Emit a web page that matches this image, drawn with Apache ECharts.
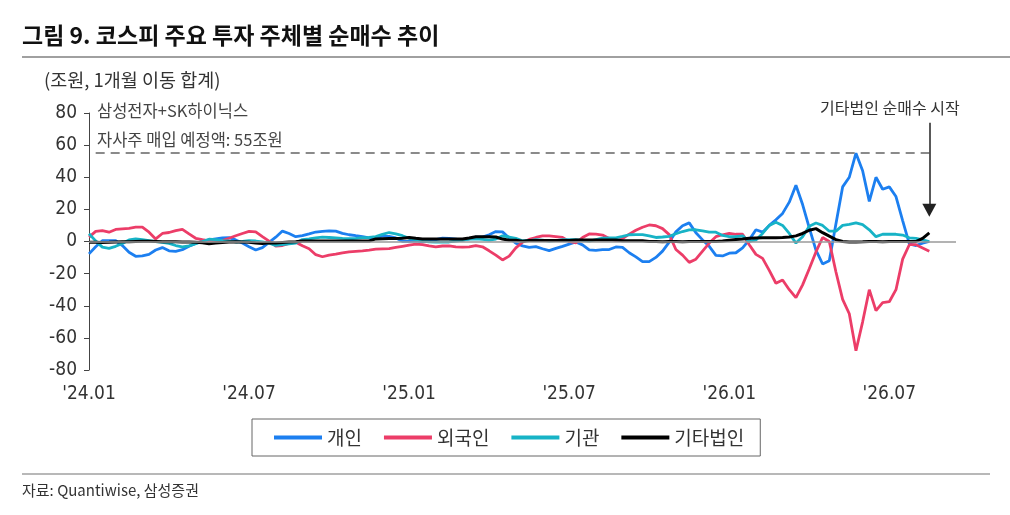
<!DOCTYPE html>
<html>
<head>
<meta charset="utf-8">
<script src="https://cdn.jsdelivr.net/npm/echarts/dist/echarts.min.js"></script>
<style>
  html, body { margin: 0; padding: 0; background: #fff; }
  #chart { width: 1010px; height: 515px; }
</style>
</head>
<body>
<div id="chart"></div>
<script>
// weekly points, 4 per month, '24.01 ~ '26.09
const months = ['24.01','24.02','24.03','24.04','24.05','24.06','24.07','24.08','24.09','24.10','24.11','24.12',
  '25.01','25.02','25.03','25.04','25.05','25.06','25.07','25.08','25.09','25.10','25.11','25.12',
  '26.01','26.02','26.03','26.04','26.05','26.06','26.07','26.08','26.09'];
const weeks = ['01', '08', '15', '22'];
const categories = [];
months.forEach(m => weeks.forEach(w => categories.push(m + '.' + w)));
categories.length = 131;

const xTickLabels = ["'24.01", "'24.07", "'25.01", "'25.07", "'26.01", "'26.07"];
const seriesNames = ['개인', '외국인', '기관', '기타법인'];

// 조원, 1개월 이동 합계
const individual = [-7.7,-3.3,0.5,0.6,0.6,-2.5,-6.7,-9.2,-9,-8,-5.3,-3.8,-5.8,-6.1,-5.1,-3,-1.2,0.3,1,1.6,2.2,2.4,1,-1,-3.3,-5.3,-3.8,-0.6,2.7,6.5,5,3,
  3.6,4.7,5.9,6.3,6.6,6.5,5.1,4.2,3.6,3.1,2.3,2,3.4,3.2,2.2,0.1,0.1,0.4,-0.2,0.3,1.2,2.1,2,1.4,0.8,1.6,2.7,2.7,4.2,6.2,
  6,2.2,-1.1,-2.7,-3.7,-3.2,-4.5,-5.7,-4.3,-3,-1.6,-0.3,-2.1,-5.2,-5.5,-5,-5,-3.4,-3.7,-7,-9.6,-12.5,-12.5,-9.9,-6,-0.4,6,9.8,11.6,5.4,1,-3,
  -8.6,-9,-7.3,-7,-4,1,7.3,5.8,10,13.5,17.5,24.5,35,23,8.5,-5.4,-14,-12,11,34,40,55,44,25,40,32.5,34,28,13,-1.5,-2.5,-1,0];
const foreign = [2.7,6.3,6.8,5.8,7.5,7.9,8.2,8.9,8.9,5.8,1.6,5,5.6,6.8,7.6,4.7,2,1.1,0.4,-0.3,0.6,2,3.6,5,6.3,6,3,0.2,-2.8,-2.5,-1.2,-0.5,
  -2.7,-4.5,-8.2,-9.5,-8.5,-7.9,-7.1,-6.5,-6.1,-5.8,-5.4,-4.8,-4.6,-4.4,-3.7,-3,-2.3,-1.6,-2,-2.7,-3.3,-2.8,-2.7,-3.3,-3.5,-3.3,-2.6,-3.3,-5.8,-8.5,
  -11.5,-9.1,-4,-0.5,1.3,2.5,3.5,3.5,3.1,2.5,0,-0.8,2.5,4.7,4.6,4,1.9,0.5,1.8,4.6,7,8.9,10.3,9.8,8,4.3,-5,-8.5,-13,-11,-6,-1,
  3,4.2,5,4.5,4.5,-2,-8,-10.5,-18,-26,-24,-30,-35,-27,-17,-6.5,2.5,0,-19,-36,-45,-68,-50,-30,-43,-38,-37.5,-30,-11,-2,-2,-4,-6];
const institution = [4.8,0.4,-3.5,-4.3,-3,-1.2,1,1.6,1.2,0.6,0,-0.6,-1.2,-2.5,-3.3,-2.7,-1.3,0,1.4,1.2,0.5,0.3,-0.3,0,0.5,0.3,-0.2,-1,-2.4,-2,-1.5,-1,
  1.2,1.7,2.3,2.7,2.5,2.2,1.9,1.7,2,2.4,2.5,3,4.5,5.6,4.8,3.6,2,1.2,0.3,-0.2,-0.4,-0.4,-0.3,0.2,0.8,1.5,1.6,1.3,0.8,1.5,
  3.5,2.8,2,0.5,0.6,1.1,0.8,0.3,0.6,1.1,1.2,1.2,0.7,0.3,1.2,2.1,2.3,2.3,3.2,4.2,4.3,4.3,3.5,2.5,2.8,3.2,4.8,6.2,7.2,7.3,6.6,5.8,
  5.8,3.8,3,3,3.5,0,1,5,10,12,10,5,-1,3,9.5,11.5,10,6.4,6.5,10,10.6,11.6,10.5,7.3,3,4.5,4.6,4.5,4,2.3,2,1,0];
const otherCorp = [-0.5,-0.5,-0.6,-0.5,-0.3,-0.2,-0.2,0,0.2,0.1,0,-0.1,-0.2,-0.2,-0.3,-0.3,-0.5,-0.8,-1.4,-1,-0.6,-0.3,-0.2,-0.3,-0.5,-1,-1.3,-0.8,-1,-0.6,-0.3,-0.2,
  0.3,0.3,0.3,0.3,0.3,0.3,0.3,0.3,0.3,0.3,0.3,1.6,1.7,1.8,1.9,2,2.5,2,1.6,1.6,1.6,1.6,1.6,1.6,1.6,2.2,3,3,3,2.8,
  1.5,0.8,0.8,0.2,0.6,0.6,0.6,0.6,0.6,0.6,0.6,1,1,1,1,1,1,1,0.4,0.4,0.4,0.4,0,0,-0.2,0,0,-0.2,0,0,0,0,
  0,0.3,0.8,1.2,1.5,2,2.2,2.3,2.3,2.4,2.5,2.8,3.5,5,7,8,5.5,3.3,1.2,0,-0.3,-0.3,-0.2,0,0,-0.2,0,0,0,0,0,2,5.4];

const buybackLevel = 55;
const arrowIndex = 126;
const colors = ['#1c7ff0', '#ec3d68', '#17b3c6', '#000000'];

const KR = '"Noto Sans CJK KR", "Noto Sans", sans-serif';
const NUM = '"Liberation Sans Narrow", "DejaVu Sans Condensed", "Roboto", sans-serif';

const chart = echarts.init(document.getElementById('chart'));

chart.setOption({
  animation: false,
  grid: { left: 89, right: 54, top: 113, bottom: 145 },
  legend: {
    data: seriesNames,
    left: 252,
    top: 419,
    icon: 'rect',
    itemWidth: 48,
    itemHeight: 4,
    itemGap: 22,
    borderColor: '#666',
    borderWidth: 1,
    borderRadius: 0,
    padding: [9, 16, 9, 22],
    textStyle: { fontFamily: KR, fontSize: 19, color: '#333' }
  },
  xAxis: {
    type: 'category',
    data: categories,
    boundaryGap: false,
    axisLine: { show: false },
    axisTick: { show: false },
    axisLabel: {
      interval: (idx) => idx % 24 === 0,
      formatter: (val, idx) => xTickLabels[idx / 24] || '',
      margin: 15,
      fontFamily: NUM,
      fontSize: 19,
      color: '#333'
    }
  },
  yAxis: {
    type: 'value',
    min: -80,
    max: 80,
    interval: 20,
    axisLine: { show: true, lineStyle: { color: '#444', width: 1 } },
    axisTick: { show: true, length: 5, lineStyle: { color: '#444' } },
    splitLine: { show: false },
    axisLabel: { fontFamily: NUM, fontSize: 19, color: '#333', margin: 12 }
  },
  series: [
    {
      name: seriesNames[0], type: 'line', data: individual,
      showSymbol: false, symbol: 'none',
      lineStyle: { width: 2.8, color: colors[0] }, itemStyle: { color: colors[0] },
      markLine: {
        silent: true, symbol: 'none', label: { show: false },
        data: [
          { yAxis: 0, lineStyle: { color: '#9a9a9a', width: 1.5, type: 'solid' } },
          [
            { coord: [categories[1], buybackLevel], lineStyle: { color: '#8a8a8a', width: 2, type: [9, 6] } },
            { coord: [categories[arrowIndex], buybackLevel] }
          ]
        ]
      }
    },
    {
      name: seriesNames[1], type: 'line', data: foreign,
      showSymbol: false, symbol: 'none',
      lineStyle: { width: 2.8, color: colors[1] }, itemStyle: { color: colors[1] }
    },
    {
      name: seriesNames[2], type: 'line', data: institution,
      showSymbol: false, symbol: 'none',
      lineStyle: { width: 2.8, color: colors[2] }, itemStyle: { color: colors[2] }
    },
    {
      name: seriesNames[3], type: 'line', data: otherCorp,
      showSymbol: false, symbol: 'none',
      lineStyle: { width: 3, color: colors[3] }, itemStyle: { color: colors[3] },
      markLine: {
        silent: true,
        symbol: ['none', 'triangle'],
        symbolSize: [14, 13],
        label: { show: false },
        lineStyle: { color: '#222', width: 1.5, type: 'solid' },
        data: [[
          { coord: [categories[arrowIndex], 74] },
          { coord: [categories[arrowIndex], 19.5] }
        ]]
      }
    }
  ],
  graphic: [
    { type: 'text', x: 22, y: 35, style: { text: '그림 9. 코스피 주요 투자 주체별 순매수 추이', font: 'bold 23px ' + KR, fill: '#111', textVerticalAlign: 'middle' } },
    { type: 'line', shape: { x1: 22, y1: 57, x2: 1010, y2: 57 }, style: { stroke: '#a0a0a0', lineWidth: 2 } },
    { type: 'text', x: 44, y: 80, style: { text: '(조원, 1개월 이동 합계)', font: '18.5px ' + KR, fill: '#333', textVerticalAlign: 'middle' } },
    { type: 'text', x: 97, y: 111, style: { text: '삼성전자+SK하이닉스', font: '16.5px ' + KR, fill: '#444', textVerticalAlign: 'middle' } },
    { type: 'text', x: 97, y: 140, style: { text: '자사주 매입 예정액: 55조원', font: '16.5px ' + KR, fill: '#444', textVerticalAlign: 'middle' } },
    { type: 'text', x: 820, y: 108, style: { text: '기타법인 순매수 시작', font: '16px ' + KR, fill: '#333', textVerticalAlign: 'middle' } },
    { type: 'line', shape: { x1: 22, y1: 474, x2: 990, y2: 474 }, style: { stroke: '#a0a0a0', lineWidth: 1.5 } },
    { type: 'text', x: 22, y: 490, style: { text: '자료: Quantiwise, 삼성증권', font: '15px ' + KR, fill: '#333', textVerticalAlign: 'middle' } }
  ]
});
</script>
</body>
</html>
